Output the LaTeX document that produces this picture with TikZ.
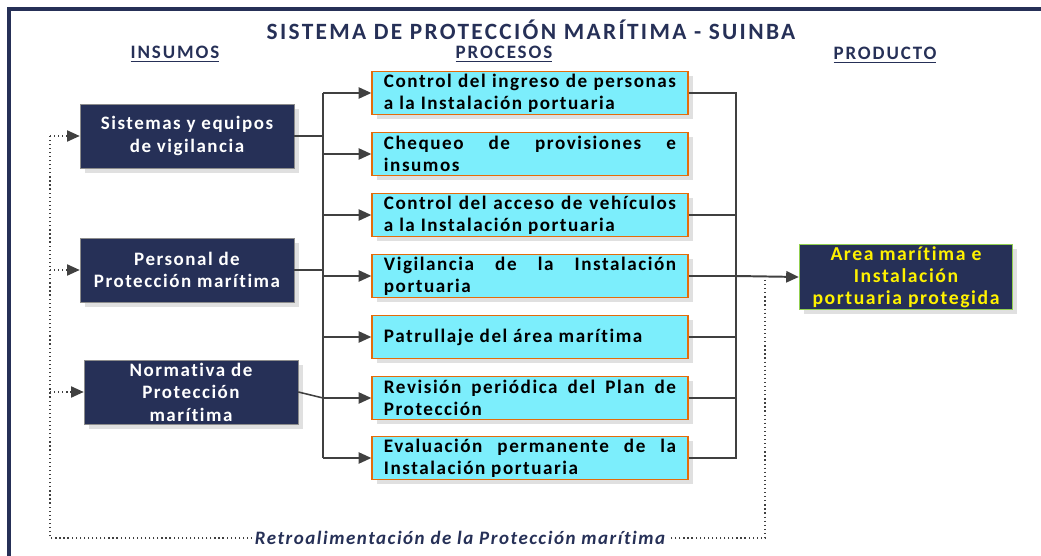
\documentclass[tikz,border=0pt]{standalone}
\usepackage{fontspec}
\setmainfont{Carlito}[Ligatures=NoCommon]
\newfontfamily\boxfont[LetterSpace=8,Ligatures=NoCommon]{Carlito}
\newfontfamily\titlefont[LetterSpace=10,Ligatures=NoCommon]{Carlito}
\usetikzlibrary{arrows.meta,shadows}

\definecolor{marino}{RGB}{38,48,87}
\definecolor{celeste}{RGB}{124,238,252}
\definecolor{naranja}{RGB}{228,108,10}
\definecolor{verde}{RGB}{146,208,80}
\definecolor{linea}{RGB}{64,64,64}

\hyphenpenalty=10000
\exhyphenpenalty=10000
\tolerance=10000

\begin{document}
\begin{tikzpicture}[
        x=0.025cm, y=-0.025cm,
        sombra/.style={drop shadow={shadow xshift=3.5pt, shadow yshift=-3.5pt, fill=black!12, opacity=1}},
        insumo/.style={draw=black!45, fill=marino, text=white, minimum width=5.35cm, minimum height=1.6cm,
            align=center, inner sep=1pt, font=\boxfont\bfseries\fontsize{13.5}{16}\selectfont, sombra},
        proceso/.style={draw=naranja, line width=0.9pt, fill=celeste, text=black, minimum width=7.9cm, minimum height=1.075cm,
            text width=7.3cm, align=justify, inner xsep=0.3cm, inner ysep=0pt,
            font=\boxfont\bfseries\fontsize{13.6}{15.5}\selectfont, sombra},
        producto/.style={draw=verde, line width=0.9pt, fill=marino, text=yellow, minimum width=5.325cm, minimum height=1.625cm,
            align=center, inner sep=1pt, font=\boxfont\bfseries\fontsize{14}{15.5}\selectfont, sombra},
        cabecera/.style={text=marino, inner ysep=0pt, font=\titlefont\bfseries\fontsize{13.5}{16}\selectfont},
        titulo/.style={text=marino, inner ysep=0pt, font=\titlefont\bfseries\fontsize{16.6}{19}\selectfont},
        linea/.style={draw=linea, line width=1.1pt},
        flujo/.style={linea, -{Triangle[length=9pt, width=8pt]}},
        retro/.style={draw=linea, line width=0.9pt, dotted},
        retroflecha/.style={retro, -{Triangle[length=9pt, width=8pt]}},
        retrotexto/.style={fill=white, text=marino, inner xsep=2pt, inner ysep=1pt,
            font=\boxfont\bfseries\itshape\fontsize{13.5}{16}\selectfont}
    ]
        \useasboundingbox (0,0) rectangle (1041,556);

        % Marco
        \draw[marino, line width=2.4pt] (9,560) -- (9,9) -- (1045,9);

        % Titulos
        \node[titulo] (titulo) at (531,30) {SISTEMA DE PROTECCIÓN MARÍTIMA - SUINBA};
        \node[cabecera] (insumos) at (175,54) {\underline{INSUMOS}};
        \node[cabecera] (procesos) at (504,54) {\underline{PROCESOS}};
        \node[cabecera] (producto) at (885,55) {\underline{PRODUCTO}};

        % Insumos
        \node[insumo] (sis) at (187,136) {Sistemas y equipos\\de vigilancia};
        \node[insumo] (per) at (187,270) {Personal de\\Protección marítima};
        \node[insumo] (nor) at (191,392) {Normativa de\\Protección\\marítima};

        % Procesos
        \node[proceso] (p1) at (530,93) {Control del ingreso de personas\linebreak a la Instalación portuaria};
        \node[proceso] (p2) at (530,154) {Chequeo de provisiones e\linebreak insumos};
        \node[proceso] (p3) at (530,215) {Control del acceso de vehículos\linebreak a la Instalación portuaria};
        \node[proceso] (p4) at (530,276) {Vigilancia de la Instalación\linebreak portuaria};
        \node[proceso] (p5) at (530,337) {Patrullaje del área marítima};
        \node[proceso] (p6) at (530,398) {Revisión periódica del Plan de\linebreak Protección};
        \node[proceso] (p7) at (530,458) {Evaluación permanente de la\linebreak Instalación portuaria};

        % Producto
        \node[producto] (prod) at (906,277) {Area marítima e\\Instalación\\portuaria protegida};

        % Bus de entrada
        \coordinate (ebus) at (323,93);
        \draw[linea] (ebus) -- (p7.west -| ebus);
        \draw[linea] (sis.east) -- (sis.east -| ebus);
        \draw[linea] (per.east) -- (per.east -| ebus);
        \draw[linea] (nor.east) -- (p6.west -| ebus);
        \foreach \p in {p1,p2,p3,p4,p5,p6,p7}
            \draw[flujo] (\p.west -| ebus) -- (\p.west);

        % Bus de salida
        \coordinate (sbus) at (736,93);
        \draw[linea] (p1.east) -- (sbus) -- (p7.east -| sbus) -- (p7.east);
        \foreach \p in {p3,p4,p5,p6}
            \draw[linea] (\p.east) -- (\p.east -| sbus);
        \draw[flujo, line width=1.4pt] (p4.east -| sbus) -- (prod.west);

        % Retroalimentacion
        \coordinate (rini) at (765,280);
        \coordinate (rfin) at (50,538);
        \draw[retro] (rini) |- (rfin) -- (sis.west -| rfin);
        \foreach \n in {sis,per,nor}
            \draw[retroflecha] (\n.west -| rfin) -- (\n.west);
        \node[retrotexto] (rtexto) at (460,538) {Retroalimentación de la Protección marítima};
    \end{tikzpicture}
\end{document}
